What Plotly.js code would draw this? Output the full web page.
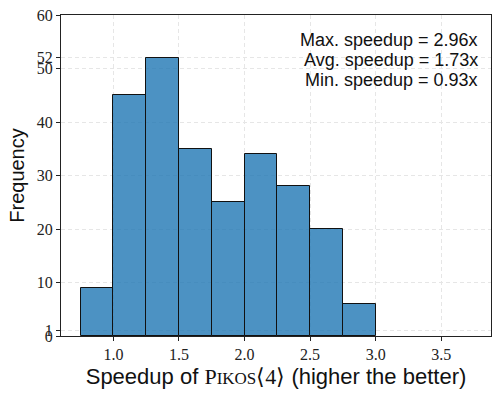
<!DOCTYPE html>
<html>
<head>
<meta charset="utf-8">
<script src="https://cdn.plot.ly/plotly-3.0.1.min.js"></script>
<style>
  body { margin: 0; background: #ffffff; }
  #plotChart { width: 500px; height: 398px; }
</style>
</head>
<body>
<div id="plotChart"></div>
<script>
// histogram bins of speedup and how many runs fell in each
var binEdges = [0.75, 1.0, 1.25, 1.5, 1.75, 2.0, 2.25, 2.5, 2.75, 3.0];
var binCounts = [9, 45, 52, 35, 25, 34, 28, 20, 6];
var yTicks = [0, 1, 10, 20, 30, 40, 50, 52, 60];
var xTicks = [1.0, 1.5, 2.0, 2.5, 3.0, 3.5];
var statLines = ["Max. speedup = 2.96x", "Avg. speedup = 1.73x", "Min. speedup = 0.93x"];

var axis_color = "#222222";
var grid_color = "#e6e6e6";
var serif = "Liberation Serif, DejaVu Serif, serif";
var sans = "Liberation Sans, Arial, sans-serif";

var centers = [];
var widths = [];
for (var i = 0; i < binCounts.length; i++) {
    centers.push((binEdges[i] + binEdges[i + 1]) / 2);
    widths.push(binEdges[i + 1] - binEdges[i]);
}

// one annotation per line so the line spacing stays tight
var notes = statLines.map(function (line, k) {
    return {
        xref: "paper",
        yref: "paper",
        x: 0.975,
        y: 0.922 - k * 0.0625,
        xanchor: "right",
        yanchor: "middle",
        showarrow: false,
        text: line,
        font: { family: sans, size: 18, color: "#111" }
    };
});

const graphic = {
    data: [
        {
            x: centers,
            y: binCounts,
            width: widths,
            type: "bar",
            marker: {
                color: "rgba(31,119,180,0.8)",
                line: { color: "#111111", width: 1 }
            },
            hoverinfo: "x+y"
        }
    ],
    layout: {
        width: 500,
        height: 398,
        margin: { l: 61, r: 9, t: 15, b: 62 },
        showlegend: false,
        bargap: 0,
        plot_bgcolor: "#ffffff",
        paper_bgcolor: "#ffffff",
        xaxis: {
            range: [0.6, 3.88],
            tickvals: xTicks,
            tickformat: ".1f",
            tickfont: { family: serif, size: 16, color: "#222" },
            ticks: "outside",
            ticklen: 4,
            tickcolor: axis_color,
            showline: true,
            mirror: true,
            linecolor: axis_color,
            linewidth: 1.2,
            showgrid: true,
            gridcolor: grid_color,
            griddash: "4px,3px",
            zeroline: false,
            title: {
                text: "Speedup of <span style='font-family:Liberation Serif'>P<span style='font-size:17px'>IKOS</span>⟨4⟩</span> (higher the better)",
                font: { family: sans, size: 22, color: "#111" },
                standoff: 6
            }
        },
        yaxis: {
            range: [0, 60],
            tickvals: yTicks,
            tickfont: { family: serif, size: 16, color: "#222" },
            ticks: "outside",
            ticklen: 4,
            tickcolor: axis_color,
            showline: true,
            mirror: true,
            linecolor: axis_color,
            linewidth: 1.2,
            showgrid: true,
            gridcolor: grid_color,
            griddash: "4px,3px",
            zeroline: false,
            title: {
                text: "Frequency",
                font: { family: sans, size: 20, color: "#111" },
                standoff: 6
            }
        },
        annotations: notes
    }
}

Plotly.newPlot("plotChart", graphic.data, graphic.layout, { displayModeBar: false });
</script>
</body>
</html>
